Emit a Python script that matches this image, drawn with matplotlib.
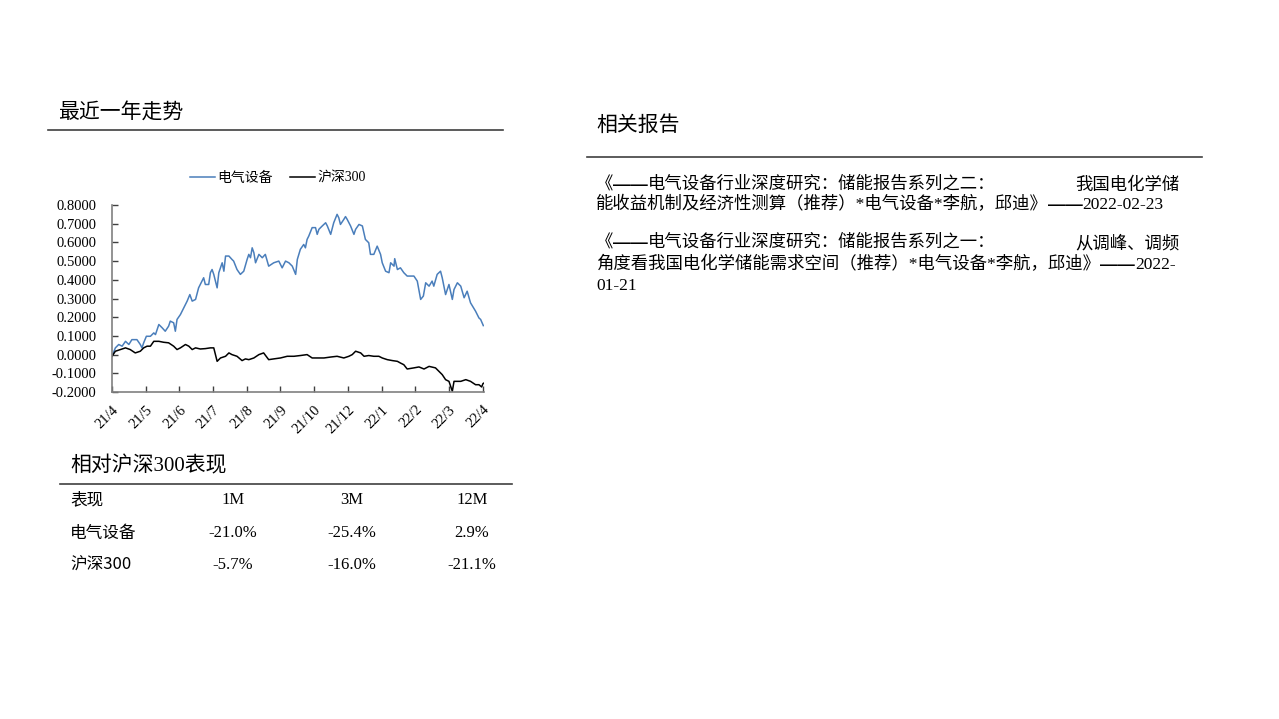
import matplotlib
matplotlib.use("Agg")
import matplotlib.pyplot as plt
from matplotlib.lines import Line2D
from matplotlib.font_manager import FontProperties

# month index since 21/4 -> value
elec_t = [0.00, 0.10, 0.20, 0.30, 0.40, 0.50, 0.59, 0.74, 0.84, 0.89, 0.94, 1.02, 1.14, 1.24,
          1.29, 1.39, 1.49, 1.58, 1.68, 1.73, 1.83, 1.88, 1.93, 2.03, 2.13, 2.23, 2.31, 2.38,
          2.48, 2.57, 2.67, 2.72, 2.77, 2.87, 2.92, 2.97, 3.02, 3.12, 3.17, 3.27, 3.32, 3.37,
          3.47, 3.56, 3.61, 3.71, 3.81, 3.91, 4.01, 4.06, 4.11, 4.16, 4.21, 4.26, 4.36, 4.46,
          4.55, 4.65, 4.80, 4.95, 5.05, 5.15, 5.25, 5.35, 5.45, 5.50, 5.59, 5.69, 5.74, 5.79,
          5.84, 5.94, 6.04, 6.09, 6.14, 6.24, 6.34, 6.39, 6.49, 6.58, 6.68, 6.73, 6.78, 6.88,
          6.93, 6.98, 7.08, 7.18, 7.23, 7.33, 7.43, 7.52, 7.62, 7.67, 7.77, 7.87, 7.97, 8.02,
          8.12, 8.22, 8.27, 8.37, 8.39, 8.47, 8.56, 8.66, 8.76, 8.96, 9.06, 9.16, 9.24, 9.31,
          9.41, 9.50, 9.55, 9.65, 9.75, 9.80, 9.90, 10.00, 10.10, 10.15, 10.25, 10.35, 10.45,
          10.54, 10.64, 10.79, 10.89, 10.94, 11.02]
elec_v = [-0.009, 0.036, 0.054, 0.045, 0.071, 0.054, 0.080, 0.080, 0.054, 0.036, 0.063, 0.098,
          0.098, 0.116, 0.107, 0.161, 0.143, 0.125, 0.152, 0.179, 0.170, 0.125, 0.188, 0.214,
          0.250, 0.286, 0.321, 0.286, 0.295, 0.357, 0.393, 0.411, 0.375, 0.375, 0.438, 0.455,
          0.429, 0.357, 0.438, 0.491, 0.446, 0.527, 0.527, 0.509, 0.500, 0.455, 0.429, 0.446,
          0.509, 0.536, 0.518, 0.571, 0.545, 0.491, 0.536, 0.518, 0.536, 0.473, 0.491, 0.500,
          0.464, 0.500, 0.491, 0.473, 0.429, 0.509, 0.563, 0.589, 0.571, 0.616, 0.634, 0.679,
          0.679, 0.643, 0.670, 0.688, 0.705, 0.688, 0.643, 0.705, 0.750, 0.732, 0.696, 0.723,
          0.738, 0.723, 0.688, 0.643, 0.670, 0.696, 0.688, 0.616, 0.598, 0.536, 0.536, 0.580,
          0.536, 0.491, 0.446, 0.438, 0.491, 0.473, 0.513, 0.455, 0.464, 0.438, 0.420, 0.420,
          0.393, 0.295, 0.313, 0.384, 0.366, 0.393, 0.366, 0.429, 0.446, 0.411, 0.321, 0.375,
          0.295, 0.348, 0.384, 0.366, 0.304, 0.339, 0.277, 0.232, 0.196, 0.188, 0.155]

hs300_t = [0.00, 0.10, 0.25, 0.40, 0.54, 0.69, 0.84, 0.94, 1.04, 1.14, 1.24, 1.39, 1.53, 1.68,
           1.83, 1.93, 2.03, 2.18, 2.28, 2.38, 2.48, 2.62, 2.77, 2.92, 3.02, 3.12, 3.22, 3.37,
           3.47, 3.56, 3.71, 3.86, 3.96, 4.06, 4.21, 4.36, 4.50, 4.65, 4.80, 5.00, 5.20, 5.40,
           5.59, 5.79, 5.94, 6.09, 6.29, 6.49, 6.68, 6.88, 7.03, 7.13, 7.23, 7.38, 7.48, 7.62,
           7.77, 7.92, 8.02, 8.17, 8.32, 8.47, 8.56, 8.66, 8.76, 8.96, 9.11, 9.26, 9.41, 9.60,
           9.70, 9.80, 9.90, 10.00, 10.10, 10.15, 10.35, 10.50, 10.64, 10.79, 10.89, 10.97,
           11.01, 11.04]
hs300_v = [-0.009, 0.018, 0.027, 0.036, 0.027, 0.009, 0.018, 0.036, 0.045, 0.045, 0.071, 0.071,
           0.066, 0.063, 0.045, 0.027, 0.036, 0.054, 0.045, 0.027, 0.036, 0.030, 0.032, 0.036,
           0.036, -0.036, -0.018, -0.009, 0.009, 0.000, -0.009, -0.032, -0.023, -0.027, -0.018,
           0.000, 0.009, -0.027, -0.023, -0.018, -0.009, -0.009, -0.005, 0.000, -0.018, -0.018,
           -0.018, -0.013, -0.009, -0.018, -0.009, 0.000, 0.018, 0.009, -0.009, -0.005, -0.009,
           -0.009, -0.018, -0.027, -0.032, -0.036, -0.045, -0.054, -0.077, -0.071, -0.066,
           -0.077, -0.063, -0.071, -0.089, -0.107, -0.134, -0.143, -0.196, -0.143, -0.143,
           -0.134, -0.143, -0.161, -0.161, -0.173, -0.155, -0.152]

month_labels = ["21/4", "21/5", "21/6", "21/7", "21/8", "21/9", "21/10", "21/12",
                "22/1", "22/2", "22/3", "22/4"]

table_header = ["表现", "1M", "3M", "12M"]
table_rows = ["电气设备", "沪深300"]
table_values = [["-21.0%", "-25.4%", "2.9%"],
                ["-5.7%", "-16.0%", "-21.1%"]]

# each report line: list of pieces, "——" pieces are drawn heavier; second item is right-aligned tail
report_lines = [
    (["《", "——", "电气设备行业深度研究：储能报告系列之二："], "我国电化学储"),
    (["能收益机制及经济性测算（推荐）*电气设备*李航，邱迪》", "——", "2022-02-23"], ""),
    (["《", "——", "电气设备行业深度研究：储能报告系列之一："], "从调峰、调频"),
    (["角度看我国电化学储能需求空间（推荐）*电气设备*李航，邱迪》", "——", "2022-"], ""),
    (["01-21"], ""),
]

plt.rcParams["axes.unicode_minus"] = False
CJK = "Noto Sans CJK SC"
MIX = ["Liberation Serif", "Noto Sans CJK SC"]
BLUE = "#4A7EBB"
W, H = 1279, 719

fig = plt.figure(figsize=(W / 100, H / 100), dpi=100)


def fx(px):
    return px / W


def fy(py):
    return 1 - py / H


def rule(x0, x1, y):
    fig.add_artist(Line2D([fx(x0), fx(x1)], [fy(y), fy(y)], color="#404040", lw=1.2))


# section headings
fig.text(fx(58), fy(112), "最近一年走势", family=CJK, fontsize=15, va="center")
rule(48, 503, 130)
fig.text(fx(596), fy(125), "相关报告", family=CJK, fontsize=15, va="center")
rule(587, 1202, 157)
fig.text(fx(70), fy(466), "相对沪深300表现", family=MIX, fontsize=15, va="center")
rule(60, 512, 484)

# trend chart
ax = fig.add_axes([fx(112), fy(392), fx(484) - fx(112), fy(205) - fy(392)])
ax.plot(elec_t, elec_v, color=BLUE, lw=1.1, label="电气设备")
ax.plot(hs300_t, hs300_v, color="black", lw=1.1, label="沪深300")
ax.set_xlim(0, 11.04)
ax.set_ylim(-0.2, 0.8)
ax.set_yticks([i / 10 for i in range(-2, 9)])
ax.set_yticklabels([f"{i / 10:.4f}" for i in range(-2, 9)], family="Liberation Serif",
                   fontsize=10.5)
ax.set_xticks(range(len(month_labels)))
ax.set_xticklabels(month_labels, family="Liberation Serif", fontsize=10.5, rotation=45,
                   ha="right", rotation_mode="anchor")
ax.tick_params(direction="in", length=4, width=1, color="#404040")
ax.tick_params(axis="y", pad=11)
ax.tick_params(axis="x", pad=8)
for side in ["top", "right"]:
    ax.spines[side].set_visible(False)
for side in ["left", "bottom"]:
    ax.spines[side].set_color("#808080")
    ax.spines[side].set_linewidth(1.2)

fig.legend(loc="center", bbox_to_anchor=(fx(278), fy(178)), ncol=2, frameon=False,
           prop=FontProperties(family=MIX, size=10), handlelength=1.8, handletextpad=0.2,
           columnspacing=1.2)

# relative performance table
col_x = [70, 233, 352, 472]
row_y = [500, 533, 565]
for j, txt in enumerate(table_header):
    if j == 0:
        fig.text(fx(col_x[j]), fy(row_y[0]), txt, family=CJK, fontsize=12, va="center")
    else:
        fig.text(fx(col_x[j]), fy(row_y[0]), txt, family="Liberation Serif", fontsize=12,
                 va="center", ha="center")
for i, name in enumerate(table_rows):
    fig.text(fx(col_x[0]), fy(row_y[i + 1]), name, family=CJK, fontsize=12, va="center")
    for j, val in enumerate(table_values[i]):
        fig.text(fx(col_x[j + 1]), fy(row_y[i + 1]), val, family="Liberation Serif",
                 fontsize=12, va="center", ha="center")

# related reports, pieces chained one after another
overlay = fig.add_axes([0, 0, 1, 1])
overlay.axis("off")
line_y = [185, 205, 243, 265, 286]
for (pieces, right), y in zip(report_lines, line_y):
    prev = None
    for piece in pieces:
        kw = dict(fontsize=12.5, va="center", ha="left")
        if piece == "——":
            kw.update(family="Liberation Sans", fontweight="bold")
        else:
            kw.update(family=MIX)
        if prev is None:
            prev = overlay.text(fx(596), fy(y), piece, transform=fig.transFigure, **kw)
        else:
            prev = overlay.annotate(piece, xy=(1, 0.5), xycoords=prev, **kw)
    if right:
        overlay.text(fx(1180), fy(y), right, transform=fig.transFigure, family=CJK,
                     fontsize=12.5, va="center", ha="right")

fig.savefig("out.png", dpi=100)
